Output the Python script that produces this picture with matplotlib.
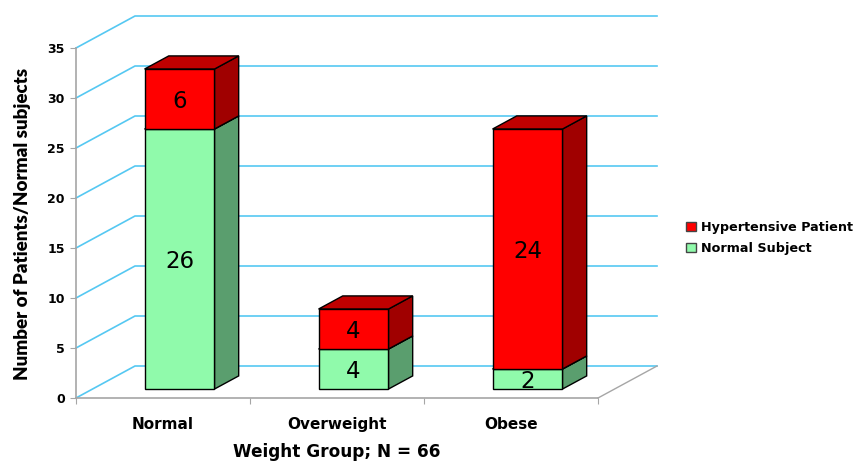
import matplotlib
matplotlib.use("Agg")
import matplotlib.pyplot as plt
from matplotlib.patches import Polygon, Patch
import numpy as np

groups = ["Normal", "Overweight", "Obese"]
normal_subject = [26, 4, 2]
hypertensive = [6, 4, 24]
y_ticks = [0, 5, 10, 15, 20, 25, 30, 35]

GREEN = ("#90FAAB", "#5A9E6E", "#73C889")
RED = ("#FF0000", "#A00000", "#C00000")
GRID = "#55C8F2"
AXIS = "#A6A6A6"

# oblique projection: full depth of the box in data units
DEPTH_X = 59 / 174
DEPTH_Y = 3.2
BAR_W = 0.402
BAR_D0 = 0.28
BAR_D1 = 0.69


def project(x, y, d):
    return (x + d * DEPTH_X, y + d * DEPTH_Y)


def draw_segment(ax, x0, bottom, top, colors):
    x1 = x0 + BAR_W
    front = [project(x0, bottom, BAR_D0), project(x1, bottom, BAR_D0),
             project(x1, top, BAR_D0), project(x0, top, BAR_D0)]
    side = [project(x1, bottom, BAR_D0), project(x1, bottom, BAR_D1),
            project(x1, top, BAR_D1), project(x1, top, BAR_D0)]
    lid = [project(x0, top, BAR_D0), project(x1, top, BAR_D0),
           project(x1, top, BAR_D1), project(x0, top, BAR_D1)]
    for pts, col in ((side, colors[1]), (lid, colors[2]), (front, colors[0])):
        ax.add_patch(Polygon(pts, closed=True, facecolor=col, edgecolor="black",
                             linewidth=1.0, zorder=3, clip_on=False))


fig = plt.figure(figsize=(8.55, 4.61), dpi=100)
ax = fig.add_axes([76 / 855, 63 / 461, 522 / 855, 350 / 461])
ax.set_xlim(0, 3)
ax.set_ylim(0, 35)

# wall lines, then the floor edge
for v in y_ticks:
    bx, by = project(3, v, 1)
    sx, sy = project(0, v, 1)
    ax.plot([0, sx, bx], [v, sy, by], color=GRID, lw=1.2, zorder=1, clip_on=False)
fx, fy = project(3, 0, 1)
ax.plot([3, fx], [0, fy], color=AXIS, lw=1.0, zorder=1, clip_on=False)

# stacked boxes, lower segment first
for i in range(len(groups)):
    x0 = i + 0.5 - BAR_W / 2
    n = normal_subject[i]
    h = hypertensive[i]
    draw_segment(ax, x0, 0, n, GREEN)
    draw_segment(ax, x0, n, n + h, RED)
    for value, mid in ((n, n / 2), (h, n + h / 2)):
        tx, ty = project(i + 0.5, mid, BAR_D0)
        ax.text(tx, ty, str(value), ha="center", va="center_baseline", fontsize=16.5,
                color="black", zorder=4)

for side in ("top", "right"):
    ax.spines[side].set_visible(False)
for side in ("left", "bottom"):
    ax.spines[side].set_color(AXIS)
    ax.spines[side].set_linewidth(1.2)

ax.set_yticks(y_ticks)
ax.set_xticks(np.arange(4))
ax.set_xticklabels([])
ax.set_xticks(np.arange(len(groups)) + 0.5, minor=True)
ax.set_xticklabels(groups, minor=True, fontsize=11, fontweight="bold")
ax.tick_params(axis="x", which="minor", length=0, pad=14)
ax.tick_params(axis="x", which="major", length=4, color=AXIS)
ax.tick_params(axis="y", length=4, color=AXIS, pad=4, labelsize=9)
for lab in ax.get_yticklabels():
    lab.set_fontweight("bold")

fig.text(337 / 855, 1 - 452 / 461, "Weight Group; N = 66", ha="center", va="center",
         fontsize=12.2, fontweight="bold")
fig.text(23 / 855, 1 - 224 / 461, "Number of Patients/Normal subjects", rotation=90,
         ha="center", va="center", fontsize=13.5, fontweight="heavy", family="Lato")

handles = [Patch(facecolor=RED[0], edgecolor="#444444", label="Hypertensive Patient"),
           Patch(facecolor=GREEN[0], edgecolor="#444444", label="Normal Subject")]
fig.legend(handles=handles, loc="center left", bbox_to_anchor=(686 / 855, 1 - 238 / 461),
           frameon=False, prop={"weight": "bold", "size": 9.2},
           handlelength=0.8, handleheight=0.7, handletextpad=0.35, labelspacing=0.6,
           borderpad=0, borderaxespad=0)

fig.savefig("out.png", dpi=100)
